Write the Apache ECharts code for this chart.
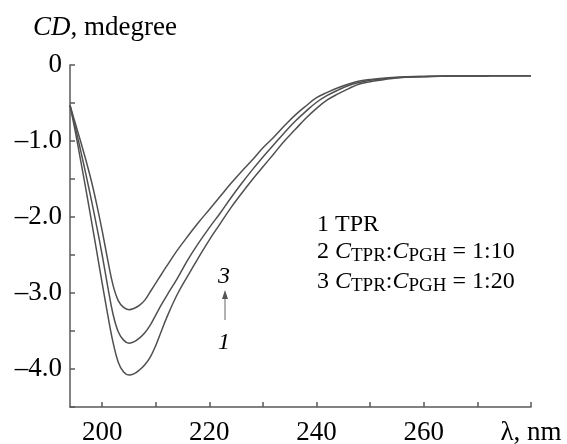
<!DOCTYPE html>
<html>
<head>
<meta charset="utf-8">
<script src="https://cdn.jsdelivr.net/npm/echarts@6/dist/echarts.min.js"></script>
<style>html,body{margin:0;padding:0;background:#fff;}#c{width:567px;height:444px;}</style>
</head>
<body>
<div id="c"></div>
<script>
const wavelength = [194,195,196,197,198,199,200,201,202,203,204,205,206,207,208,209,210,211,212,214,216,218,220,222,224,226,228,230,232,234,236,238,240,242,244,246,248,250,255,260,265,270,275,280];
// curve 1: TPR
const cd1 = [-0.53,-0.88,-1.26,-1.65,-2.05,-2.46,-2.87,-3.27,-3.64,-3.91,-4.04,-4.08,-4.06,-4.01,-3.94,-3.84,-3.69,-3.51,-3.33,-3.02,-2.77,-2.53,-2.30,-2.09,-1.88,-1.69,-1.51,-1.34,-1.17,-1.00,-0.85,-0.70,-0.57,-0.46,-0.38,-0.31,-0.25,-0.22,-0.17,-0.155,-0.145,-0.145,-0.14,-0.14];
// curve 2: CTPR:CPGH = 1:10
const cd2 = [-0.53,-0.82,-1.13,-1.45,-1.78,-2.13,-2.50,-2.90,-3.27,-3.51,-3.62,-3.66,-3.64,-3.59,-3.52,-3.42,-3.29,-3.16,-3.04,-2.81,-2.56,-2.34,-2.14,-1.95,-1.75,-1.56,-1.38,-1.21,-1.05,-0.89,-0.74,-0.61,-0.49,-0.40,-0.33,-0.27,-0.23,-0.20,-0.165,-0.15,-0.145,-0.145,-0.14,-0.14];
// curve 3: CTPR:CPGH = 1:20
const cd3 = [-0.53,-0.77,-1.01,-1.26,-1.53,-1.84,-2.18,-2.55,-2.89,-3.10,-3.19,-3.22,-3.20,-3.16,-3.09,-2.98,-2.87,-2.76,-2.65,-2.44,-2.25,-2.07,-1.90,-1.73,-1.56,-1.40,-1.25,-1.09,-0.95,-0.80,-0.66,-0.54,-0.43,-0.36,-0.30,-0.25,-0.21,-0.19,-0.16,-0.15,-0.145,-0.145,-0.14,-0.14];
const xTickValues = [200,210,220,230,240,250,260,270,280];
const xLabelValues = [200,220,240,260,280];
const yLabelValues = [0,-1,-2,-3,-4];

const FONT = '"Liberation Serif", "Times New Roman", serif';
const lineColor = '#505050';
const axisColor = '#5a5a5a';

function pairs(vals){ return wavelength.map((w,i)=>[w, vals[i]]); }

const chart = echarts.init(document.getElementById('c'), null, {renderer:'canvas'});
const seriesData = [cd1, cd2, cd3];
chart.setOption({
  animation:false,
  backgroundColor:'#fff',
  grid:{left:70, right:36, top:65, bottom:37, containLabel:false, outerBoundsMode:'none'},
  xAxis:{
    type:'value', min:194, max:280,
    axisLine:{show:true, onZero:false, lineStyle:{color:axisColor, width:1.5}},
    axisTick:{show:true, inside:true, length:5, customValues:xTickValues, lineStyle:{color:axisColor, width:1.5}},
    axisLabel:{customValues:xLabelValues, margin:12, color:'#000', fontSize:27, fontFamily:FONT,
      formatter:function(v){ return v===280 ? 'λ, nm' : String(v); }},
    splitLine:{show:false}
  },
  yAxis:{
    type:'value', min:-4.5, max:0, interval:0.5,
    axisLine:{show:true, onZero:false, lineStyle:{color:axisColor, width:1.5}},
    axisTick:{show:true, inside:true, length:5, lineStyle:{color:axisColor, width:1.5}},
    axisLabel:{customValues:yLabelValues, margin:8, color:'#000', fontSize:27, fontFamily:FONT,
      formatter:function(v){ return v===0 ? '0' : '\u2013' + Math.abs(v).toFixed(1); }},
    splitLine:{show:false}
  },
  series: seriesData.map((d,i)=>({
    type:'line', name:'c'+(i+1), data:pairs(d), showSymbol:false, symbol:'none', smooth:0.4,
    lineStyle:{color:lineColor, width:1.5}
  })),
  graphic:[
    {type:'text', left:33, top:14, style:{text:'{i|CD}, mdegree', fill:'#000', font:'27px '+FONT,
      rich:{i:{fontStyle:'italic', fontSize:27, fontFamily:FONT}}}},
    {type:'text', left:317, top:213, style:{text:'1 TPR', fill:'#000', font:'24px '+FONT}},
    {type:'text', left:317, top:238, style:{text:'2 {i|C}{s|TPR}:{i|C}{s|PGH} = 1:10', fill:'#000', font:'24px '+FONT, lineHeight:28,
      rich:{i:{fontStyle:'italic', fontSize:24, fontFamily:FONT, lineHeight:28},
            s:{fontSize:19, fontFamily:FONT, verticalAlign:'bottom', lineHeight:22}}}},
    {type:'text', left:317, top:268, style:{text:'3 {i|C}{s|TPR}:{i|C}{s|PGH} = 1:20', fill:'#000', font:'24px '+FONT, lineHeight:28,
      rich:{i:{fontStyle:'italic', fontSize:24, fontFamily:FONT, lineHeight:28},
            s:{fontSize:19, fontFamily:FONT, verticalAlign:'bottom', lineHeight:22}}}},
    {type:'text', x:224, y:277, style:{text:'3', fill:'#000', font:'italic 24px '+FONT, align:'center', verticalAlign:'middle'}},
    {type:'text', x:224, y:343, style:{text:'1', fill:'#000', font:'italic 24px '+FONT, align:'center', verticalAlign:'middle'}},
    {type:'line', shape:{x1:225, y1:320, x2:225, y2:296}, style:{stroke:'#999', lineWidth:1.5}},
    {type:'polygon', shape:{points:[[225,290],[222,299],[228,299]]}, style:{fill:'#555'}}
  ]
});
</script>
</body>
</html>
